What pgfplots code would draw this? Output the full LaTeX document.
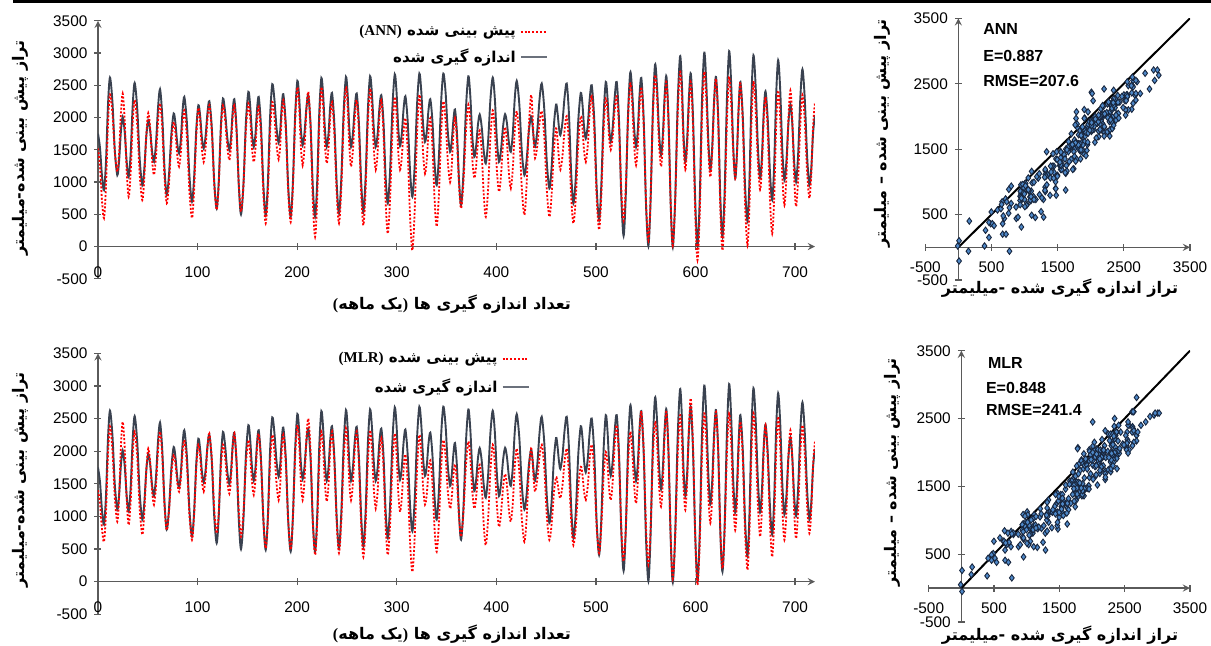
\documentclass[border=0pt]{standalone}
\usepackage{fontspec}
\setmainfont{Liberation Sans}
\newfontfamily\fa[Script=Arabic]{DejaVu Sans}
\newfontfamily\tnr{Liberation Serif}
\TeXXeTstate=1
\usepackage{pgfplots}
\pgfplotsset{compat=1.18}
\usepackage{pgfplotstable}

\definecolor{meas}{RGB}{58,66,80}
\definecolor{ptfill}{RGB}{78,136,200}
\definecolor{ptdraw}{RGB}{24,38,62}
\definecolor{axc}{RGB}{90,90,90}

\newcommand\tkf{\fontsize{7.7}{9}\selectfont}
\newcommand\lbf{\fontsize{8}{9.6}\selectfont\fa\bfseries}
\newcommand\lgf{\fontsize{7.5}{9}\selectfont\fa\bfseries}
\newcommand\stf{\fontsize{8}{9.6}\selectfont\bfseries}

% t = month, m = measured, a = ANN prediction, b = MLR prediction
\pgfplotstableread{
t m a b
0 1750 1520 1400
2 1531 1250 1200
4 1094 710 810
6 875 440 610
8 1311 920 1050
10 2184 1880 1940
12 2620 2360 2380
14.5 2242 2060 2015
16.9 1485 1460 1285
19.4 1107 1160 920
21.2 1333 1460 1300
23 1784 2070 2070
24.8 2010 2370 2450
26.8 1778 1970 2055
28.8 1313 1170 1265
30.8 1081 770 870
32.8 1445 1145 1230
34.8 2173 1895 1945
36.8 2537 2270 2300
39.4 2141 1885 1905
41.9 1348 1110 1115
44.5 952 720 720
46.5 1204 1060 1050
48.5 1707 1735 1710
50.5 1959 2070 2040
52.4 1798 1830 1825
54.3 1475 1350 1395
56.2 1313 1110 1180
58.2 1595 1390 1460
60.3 2158 1945 2020
62.3 2439 2220 2300
64.5 2029 1835 1925
66.8 1208 1060 1170
69 797 670 790
71.3 1114 985 1080
73.7 1747 1615 1650
76 2063 1930 1940
77.8 1908 1760 1800
79.6 1598 1415 1520
81.4 1443 1240 1380
83.2 1662 1460 1580
84.9 2101 1895 1975
86.7 2320 2110 2170
89.3 1914 1695 1790
91.8 1101 860 1025
94.4 694 440 640
96.5 1068 870 1005
98.7 1817 1720 1735
100.8 2191 2150 2100
102.6 2024 1940 1920
104.3 1689 1520 1560
106.1 1521 1310 1380
108 1704 1530 1605
109.9 2070 1970 2050
111.8 2253 2190 2270
114.3 1838 1785 1890
116.7 1007 975 1125
119.2 591 570 740
121.3 1017 975 1080
123.4 1869 1785 1760
125.5 2295 2190 2100
127.6 2095 1980 1915
129.8 1694 1555 1540
131.9 1494 1340 1350
133.6 1692 1555 1580
135.2 2087 1980 2040
136.9 2284 2190 2270
139.1 1838 1780 1875
141.4 945 955 1085
143.6 498 540 690
146.1 973 960 1060
148.5 1923 1800 1800
151 2398 2220 2170
152.8 2185 1995 1960
154.6 1759 1540 1540
156.4 1546 1310 1330
158.1 1740 1525 1565
159.7 2127 1955 2035
161.4 2320 2170 2270
163.7 1862 1720 1830
166.1 946 815 950
168.4 488 360 510
170.6 995 830 945
172.8 2010 1770 1815
175 2517 2240 2250
177.1 2290 2020 2000
179.3 1837 1575 1500
181.4 1610 1350 1250
183 1798 1580 1500
184.5 2174 2040 2000
186.1 2362 2270 2250
188.6 1887 1800 1810
191 937 855 930
193.5 462 380 490
195.7 989 905 970
198 2042 1950 1925
200.2 2568 2470 2400
202 2319 2170 2115
203.7 1821 1565 1540
205.5 1572 1260 1250
207.4 1766 1545 1565
209.3 2153 2115 2190
211.2 2346 2400 2500
213.5 1875 1840 1980
215.7 933 715 935
218 462 150 410
220.1 1000 730 885
222.2 2076 1890 1830
224.3 2614 2470 2300
226.1 2347 2175 2035
227.9 1813 1585 1500
229.7 1546 1290 1230
231.5 1755 1530 1500
233.2 2173 2005 2035
235 2382 2240 2300
237.3 1915 1770 1835
239.7 981 830 905
242 514 360 440
244.3 1043 890 920
246.7 2101 1945 1875
249 2630 2470 2350
250.7 2359 2165 2075
252.4 1817 1550 1525
254.1 1546 1240 1250
256 1753 1500 1515
257.9 2166 2015 2040
259.8 2373 2270 2300
262 1915 1785 1820
264.3 997 815 860
266.5 539 330 380
268.7 1064 860 865
271 2115 1920 1835
273.2 2640 2450 2320
275.1 2367 2135 2020
277 1820 1505 1420
278.9 1546 1190 1120
280.8 1746 1460 1390
282.6 2146 2000 1930
284.5 2346 2270 2200
286.7 1927 1755 1755
288.8 1088 720 860
291 669 200 410
293.3 1170 730 875
295.7 2171 1790 1805
298 2671 2320 2270
299.8 2394 2040 1970
301.5 1839 1475 1370
303.3 1561 1190 1070
305.1 1754 1390 1290
306.9 2139 1790 1730
308.7 2331 1990 1950
311 1941 1480 1500
313.4 1162 455 600
315.7 772 -60 150
318 1250 545 675
320.4 2205 1750 1725
322.7 2682 2350 2250
324.6 2417 2045 1985
326.5 1888 1435 1450
328.4 1623 1130 1180
330.2 1788 1345 1350
331.9 2119 1775 1690
333.7 2284 1990 1860
335.8 1951 1570 1510
338 1285 730 810
340.1 952 310 460
342.3 1385 795 890
344.6 2250 1765 1745
346.8 2682 2250 2170
349.1 2379 1940 1910
351.3 1772 1315 1385
353.6 1468 1000 1120
355.2 1632 1250 1290
356.9 1961 1745 1630
358.5 2125 1990 1800
360.5 1755 1640 1525
362.6 1014 940 970
364.6 643 590 690
367 1142 995 1055
369.5 2141 1800 1785
371.9 2640 2200 2150
373.9 2328 1915 1895
375.9 1703 1345 1380
377.9 1391 1060 1120
379.7 1555 1245 1290
381.5 1883 1615 1625
383.3 2047 1800 1790
385.3 1857 1465 1485
387.4 1478 795 870
389.4 1288 460 560
391.7 1621 875 945
394.1 2287 1700 1715
396.4 2620 2110 2100
398.5 2293 1795 1785
400.6 1640 1165 1155
402.7 1313 850 840
404.7 1498 1100 1045
406.8 1867 1600 1450
408.8 2052 1850 1650
410.7 1906 1615 1470
412.6 1614 1140 1105
414.5 1468 900 920
416.5 1743 1200 1200
418.5 2293 1800 1760
420.5 2568 2100 2040
423.1 2203 1700 1685
425.6 1472 895 970
428.2 1107 490 610
430.4 1336 955 970
432.7 1793 1885 1685
434.9 2021 2350 2040
436.2 1902 2105 1875
437.6 1665 1615 1545
438.9 1546 1370 1380
441.1 1791 1555 1560
443.4 2282 1920 1920
445.6 2527 2100 2100
448.2 2121 1690 1735
450.7 1308 870 1005
453.3 901 460 640
455.5 1226 805 880
457.8 1877 1490 1360
460 2202 1830 1600
461.4 2083 1670 1520
462.9 1846 1350 1360
464.3 1727 1190 1280
466.4 1927 1400 1470
468.6 2327 1815 1850
470.7 2527 2020 2040
472.9 2063 1605 1670
475.2 1134 775 930
477.4 669 360 560
479.9 1097 775 860
482.3 1954 1605 1460
484.8 2382 2020 1760
486.5 2205 1845 1635
488.1 1852 1490 1380
489.8 1675 1310 1250
491.8 1882 1565 1465
493.8 2295 2075 1890
495.8 2501 2330 2100
498.3 1978 1815 1685
500.7 933 780 855
503.2 410 260 440
505.4 946 770 830
507.7 2017 1790 1605
509.9 2552 2300 1990
511.6 2320 2100 1805
513.2 1855 1700 1435
514.9 1623 1500 1250
516.9 1855 1710 1540
518.9 2320 2125 2115
520.9 2552 2330 2400
523.2 1955 1850 1880
525.5 762 885 835
527.8 165 400 310
530 799 935 810
532.3 2066 2000 1805
534.5 2700 2530 2300
536.4 2412 2215 2025
538.4 1835 1580 1475
540.3 1546 1260 1200
542.1 1813 1565 1550
543.8 2347 2170 2250
545.6 2614 2470 2600
548 1963 1880 2015
550.3 661 695 845
552.7 10 100 260
554.9 713 740 810
557.2 2119 2020 1905
559.4 2822 2660 2450
561.4 2471 2305 2125
563.4 1768 1595 1475
565.4 1417 1240 1150
567.2 1723 1570 1515
569 2334 2225 2240
570.8 2640 2550 2600
572.9 1978 1920 1965
575.1 653 655 690
577.2 -10 20 50
579.6 730 695 675
582.1 2210 2040 1925
584.5 2950 2710 2550
586.3 2541 2330 2190
588 1722 1570 1465
589.8 1313 1190 1100
591.6 1655 1530 1530
593.5 2340 2210 2385
595.3 2682 2550 2810
597.5 2014 1860 2095
599.8 678 480 665
602 10 -210 -50
604.3 759 520 610
606.5 2258 1980 1925
608.8 3007 2710 2580
610.8 2552 2305 2160
612.9 1641 1490 1320
614.9 1185 1080 900
616.8 1546 1460 1325
618.7 2269 2220 2175
620.6 2630 2600 2600
622.8 2011 1935 2000
624.9 772 605 800
627.1 152 -60 200
629.3 871 615 795
631.6 2309 1960 1985
633.8 3028 2630 2580
635.8 2535 2240 2135
637.9 1549 1455 1240
639.9 1056 1060 790
641.6 1430 1430 1205
643.4 2178 2165 2035
645.1 2552 2530 2450
647.5 2013 1905 1885
649.8 934 650 750
652.2 395 20 180
654.2 1038 655 780
656.2 2323 1920 1980
658.2 2966 2550 2580
660.4 2489 2135 2110
662.7 1534 1300 1165
664.9 1056 880 690
666.7 1394 1240 1120
668.5 2070 1960 1975
670.3 2408 2320 2400
672.5 1986 1790 1895
674.8 1142 730 885
677 720 200 380
679 1262 755 920
681 2346 1865 1995
683 2888 2420 2530
685.1 2424 1975 2060
687.2 1495 1085 1115
689.3 1030 640 640
691.3 1323 1085 1060
693.3 1909 1975 1900
695.3 2202 2420 2320
697.2 1903 1970 1905
699.1 1304 1070 1075
701 1004 620 660
703.1 1440 1055 1095
705.3 2313 1920 1965
707.4 2749 2350 2400
709.7 2300 1950 1985
712.1 1401 1150 1155
714.4 952 750 740
716.3 1223 1125 1095
718.1 1765 1870 1800
720 2036 2240 2150
}\data

\pgfplotsset{
  common/.style={
    scale only axis,
    axis line style={-, draw=axc, line width=0.6pt},
    tick align=outside, major tick length=3.5pt,
    tick style={draw=axc, line width=0.6pt},
    hide obscured x ticks=false, hide obscured y ticks=false,
    tick label style={font=\tkf},
    /pgf/number format/assume math mode=true,
    /pgf/number format/1000 sep={},
  },
  tsax/.style={
    common, width=358.5pt,
    xmin=0, xmax=720, ymin=-500, ymax=3500,
    axis x line=middle, axis y line=left,
    xtick={0,100,...,700}, ytick={-500,0,...,3500},
    xticklabel style={yshift=-5pt},
    legend plot pos=right, legend cell align=right,
    legend image code/.code={\draw[##1] (0pt,0pt) -- (13pt,0pt);},
    legend style={draw=none, fill=none, font=\lgf, inner sep=0pt},
  },
  scax/.style={
    common,
    xmin=-500, xmax=3500, ymin=-500, ymax=3500,
    axis lines=middle,
    xtick={-500,500,...,3500}, ytick={-500,500,...,3500},
    xticklabel style={yshift=-2pt},
  },
  measline/.style={meas, line width=0.95pt, smooth},
  predline/.style={red, line width=0.9pt, dash pattern=on 1pt off 0.9pt, smooth},
  scpts/.style={only marks, mark=diamond*, mark size=1.6pt,
    mark options={fill=ptfill, draw=ptdraw, line width=0.45pt}},
}

\begin{document}
\begin{tikzpicture}
\useasboundingbox (0,0) rectangle (605.5pt,323pt);
\draw[line width=1.4pt] (6.5pt,322.2pt) -- (605.5pt,322.2pt);

% top: ANN time series
\begin{axis}[tsax, at={(49pt,183.6pt)}, anchor=south west, height=129pt,
  legend style={at={(0.628,1.0)}, anchor=north east, row sep=1pt}]
\addplot[measline, forget plot] table[x=t, y=m] {\data};
\addplot[predline, forget plot] table[x=t, y=a] {\data};
\addlegendimage{predline}
\addlegendentry{{\tnr\bfseries (ANN)} \beginR پیش بینی شده\endR}
\addlegendimage{meas!75, line width=1pt}
\addlegendentry{\beginR اندازه گیری شده\endR}
\end{axis}

% bottom: MLR time series
\begin{axis}[tsax, at={(49pt,15.85pt)}, anchor=south west, height=130.5pt,
  legend style={at={(0.6025,1.02)}, anchor=north east, row sep=2.5pt}]
\addplot[measline, forget plot] table[x=t, y=m] {\data};
\addplot[predline, forget plot] table[x=t, y=b] {\data};
\addlegendimage{predline}
\addlegendentry{{\tnr\bfseries (MLR)} \beginR پیش بینی شده\endR}
\addlegendimage{meas!75, line width=1pt}
\addlegendentry{\beginR اندازه گیری شده\endR}
\end{axis}

% top scatter
\begin{axis}[scax, at={(462.65pt,183pt)}, anchor=south west, width=132.35pt, height=130.85pt]
\addplot[black, line width=1pt] coordinates {(0,0) (3500,3500)};
\addplot[scpts] table[x=m, y=a] {\data};
\node[font=\stf, anchor=west] at (axis cs:270,3338) {ANN};
\node[font=\stf, anchor=west] at (axis cs:270,2927) {E=0.887};
\node[font=\stf, anchor=west] at (axis cs:270,2546) {RMSE=207.6};
\end{axis}

% bottom scatter
\begin{axis}[scax, at={(464.35pt,12pt)}, anchor=south west, width=130.65pt, height=135.65pt]
\addplot[black, line width=1pt] coordinates {(0,0) (3500,3500)};
\addplot[scpts] table[x=m, y=b] {\data};
\node[font=\stf, anchor=west] at (axis cs:300,3318) {MLR};
\node[font=\stf, anchor=west] at (axis cs:270,2950) {E=0.848};
\node[font=\stf, anchor=west] at (axis cs:270,2630) {RMSE=241.4};
\end{axis}

% axis titles
\node[font=\lbf] at (226pt,171pt) {{\tnr\bfseries(}\beginR یک ماهه\endR{\tnr\bfseries)} \beginR تعداد اندازه گیری ها\endR};
\node[font=\lbf] at (226pt,6pt) {{\tnr\bfseries(}\beginR یک ماهه\endR{\tnr\bfseries)} \beginR تعداد اندازه گیری ها\endR};
\node[font=\lbf, rotate=90] at (10pt,249pt) {\beginR تراز پیش بینی شده-میلیمتر\endR};
\node[font=\lbf, rotate=90] at (10pt,83pt) {\beginR تراز پیش بینی شده-میلیمتر\endR};
\node[font=\lbf] at (530pt,179pt) {\beginR تراز اندازه گیری شده -میلیمتر\endR};
\node[font=\lbf] at (530pt,5.5pt) {\beginR تراز اندازه گیری شده -میلیمتر\endR};
\node[font=\lbf, rotate=90] at (441pt,256.5pt) {\beginR تراز پیش بینی شده – میلیمتر\endR};
\node[font=\lbf, rotate=90] at (446pt,87pt) {\beginR تراز پیش بینی شده – میلیمتر\endR};
\end{tikzpicture}
\end{document}
